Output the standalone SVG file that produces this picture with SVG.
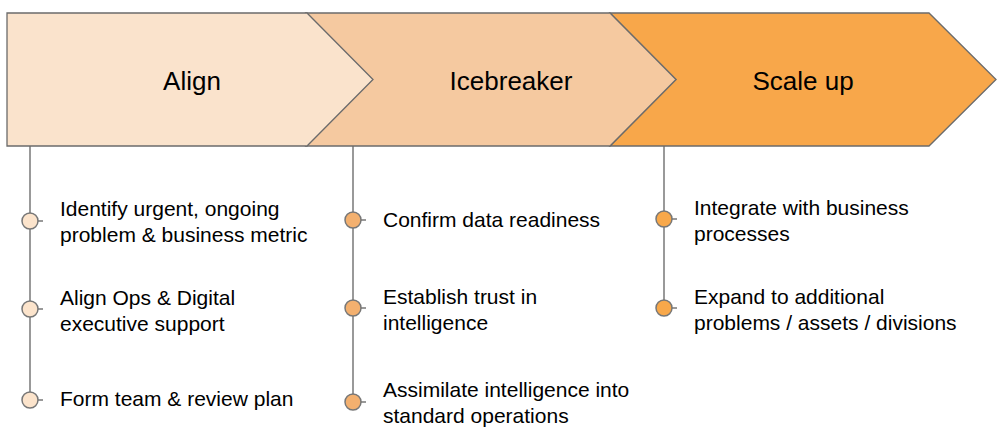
<svg xmlns="http://www.w3.org/2000/svg" width="1002" height="438" viewBox="0 0 1002 438">
<style>
.stage{stroke:#6b6b6b;stroke-width:1.3;stroke-linejoin:miter}
.title{font-family:"Liberation Sans",Arial,sans-serif;font-size:26px;fill:#000;text-anchor:middle}
.item{font-family:"Liberation Sans",Arial,sans-serif;font-size:21px;fill:#000}
.conn{stroke:#777;stroke-width:1.5;fill:none}
.dot{stroke:#777;stroke-width:1.5}
</style>
<rect width="1002" height="438" fill="#fff"/>
<g id="connectors">
<line class="conn" x1="30" y1="146" x2="30" y2="400"/>
<line class="conn" x1="353" y1="146" x2="353" y2="402"/>
<line class="conn" x1="664" y1="146" x2="664" y2="308"/>
<line class="conn" x1="30" y1="221" x2="43" y2="221"/>
<line class="conn" x1="30" y1="309" x2="43" y2="309"/>
<line class="conn" x1="30" y1="400" x2="43" y2="400"/>
<line class="conn" x1="353" y1="220" x2="366" y2="220"/>
<line class="conn" x1="353" y1="308" x2="366" y2="308"/>
<line class="conn" x1="353" y1="402" x2="366" y2="402"/>
<line class="conn" x1="664" y1="219" x2="677" y2="219"/>
<line class="conn" x1="664" y1="308" x2="677" y2="308"/>
</g>
<g id="stage-scaleup">
<polygon class="stage" fill="#f8a74a" points="610,13 929,13 996,79.5 929,146 610,146 676,79.5"/>
<text class="title" x="803" y="90">Scale up</text>
</g>
<g id="stage-icebreaker">
<polygon class="stage" fill="#f5c9a0" points="306,13 610,13 676,79.5 610,146 306,146 372,79.5"/>
<text class="title" x="511" y="90">Icebreaker</text>
</g>
<g id="stage-align">
<polygon class="stage" fill="#fae3cc" points="7,13 307,13 373,79.5 307,146 7,146"/>
<text class="title" x="192" y="90">Align</text>
</g>
<g id="align-items">
<circle class="dot" cx="30" cy="221" r="8" fill="#fce4cc"/>
<text class="item" x="60" y="216">Identify urgent, ongoing</text>
<text class="item" x="60" y="242">problem &amp; business metric</text>
<circle class="dot" cx="30" cy="309" r="8" fill="#fce4cc"/>
<text class="item" x="60" y="305">Align Ops &amp; Digital</text>
<text class="item" x="60" y="331">executive support</text>
<circle class="dot" cx="30" cy="400" r="8" fill="#fce4cc"/>
<text class="item" x="60" y="406">Form team &amp; review plan</text>
</g>
<g id="icebreaker-items">
<circle class="dot" cx="353" cy="220" r="8" fill="#f3b06f"/>
<text class="item" x="383" y="227">Confirm data readiness</text>
<circle class="dot" cx="353" cy="308" r="8" fill="#f3b06f"/>
<text class="item" x="383" y="304">Establish trust in</text>
<text class="item" x="383" y="330">intelligence</text>
<circle class="dot" cx="353" cy="402" r="8" fill="#f3b06f"/>
<text class="item" x="383" y="397">Assimilate intelligence into</text>
<text class="item" x="383" y="423">standard operations</text>
</g>
<g id="scaleup-items">
<circle class="dot" cx="664" cy="219" r="8" fill="#f8a84a"/>
<text class="item" x="694" y="215">Integrate with business</text>
<text class="item" x="694" y="241">processes</text>
<circle class="dot" cx="664" cy="308" r="8" fill="#f8a84a"/>
<text class="item" x="694" y="304">Expand to additional</text>
<text class="item" x="694" y="330">problems / assets / divisions</text>
</g>
</svg>
